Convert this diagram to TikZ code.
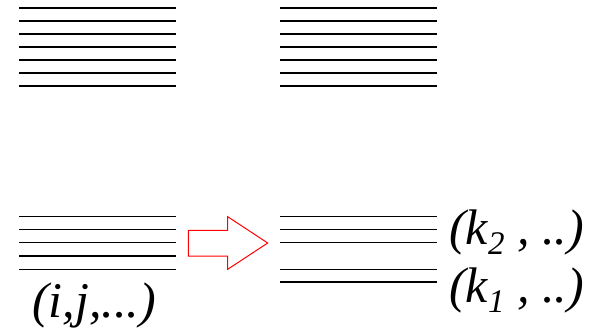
\documentclass[tikz,border=0pt]{standalone}
\usepackage{fontspec}
\setmainfont{Liberation Serif}
\newcommand{\mysub}[1]{\raisebox{-10pt}{\fontsize{33}{36}\selectfont #1}}
\begin{document}
\begin{tikzpicture}[x=1pt,y=-1pt,
  lvl/.style={line width=1.4pt,black},
  lbl/.style={inner sep=0pt,anchor=base west,font=\fontsize{50}{60}\selectfont\itshape}]
\useasboundingbox (0,0) rectangle (595,333);
% top left levels
\foreach \y in {8,21,34,47,60,73,86} \draw[lvl] (19,\y) -- (176,\y);
% top right levels
\foreach \y in {8,21,34,47,60,73,86} \draw[lvl] (280,\y) -- (437,\y);
% bottom left levels
\foreach \y in {216.7,229.7,242.7,256,269.3} \draw[lvl] (19,\y) -- (176,\y);
% bottom right levels
\foreach \y in {216.7,229.7,242.7,269.3,282} \draw[lvl] (280,\y) -- (437,\y);
% arrow
\coordinate (a1) at (188.3,230.3);
\coordinate (a2) at (227.7,230.3);
\coordinate (a3) at (227.7,216.7);
\coordinate (a4) at (267.7,243);
\coordinate (a5) at (227.7,269.3);
\coordinate (a6) at (227.7,256);
\coordinate (a7) at (188.3,256);
\draw[red,line width=1pt] (a1) -- (a2) -- (a3) -- (a4) -- (a5) -- (a6) -- (a7) -- cycle;
% labels
\node[lbl] (lij) at (32,317) {(i,j,...)};
\node[lbl] (lk2) at (449,244) {(k\mysub{2} , ..)};
\node[lbl] (lk1) at (449,302) {(k\mysub{1} , ..)};
\end{tikzpicture}
\end{document}
